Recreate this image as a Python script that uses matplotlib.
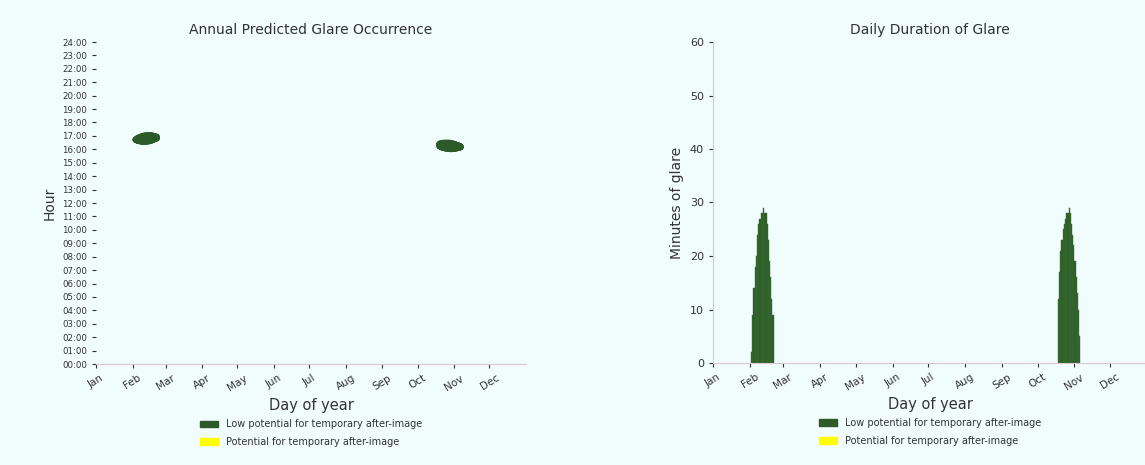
import numpy as np
import matplotlib
matplotlib.use('Agg')
import matplotlib.pyplot as plt
from matplotlib.patches import Patch

# month labels and their first day of year
months = ['Jan', 'Feb', 'Mar', 'Apr', 'May', 'Jun', 'Jul', 'Aug', 'Sep', 'Oct', 'Nov', 'Dec']
month_start = [0, 31, 59, 90, 120, 151, 181, 212, 243, 273, 304, 334]

# February glare window: day of year, minutes of glare, glare start (decimal hours)
feb_days = [32, 33, 34, 35, 36, 37, 38, 39, 40, 41, 42, 43, 44, 45, 46, 47, 48, 49, 50]
feb_minutes = [2, 9, 14, 18, 20, 24, 26, 27, 28, 28, 29, 28, 28, 26, 23, 19, 16, 12, 9]
feb_start = [16.70, 16.66, 16.62, 16.60, 16.59, 16.57, 16.56, 16.57, 16.57, 16.57,
             16.57, 16.59, 16.60, 16.62, 16.66, 16.70, 16.73, 16.77, 16.80]

# October/November glare window
nov_days = [290, 291, 292, 293, 294, 295, 296, 297, 298, 299, 300, 301, 302, 303, 304,
            305, 306, 307, 308]
nov_minutes = [12, 17, 21, 23, 25, 26, 27, 28, 28, 29, 28, 26, 24, 22, 19, 16, 13, 10, 5]
nov_start = [16.22, 16.17, 16.13, 16.11, 16.08, 16.06, 16.05, 16.03, 16.03, 16.01,
             16.01, 16.01, 16.03, 16.04, 16.05, 16.07, 16.09, 16.11, 16.14]

hour_labels = ['%02d:00' % h for h in range(25)]

green = '#2c5a28'
yellow = '#ffff00'
bg = '#f1fcfc'
spine_col = '#dcc8d2'
text_col = '#333333'


def glare_points(days, minutes, start):
    # one point per minute of glare for every day
    xs, ys = [], []
    for d, m, s in zip(days, minutes, start):
        for k in range(m + 1):
            xs.append(d + 1.5)
            ys.append(s + k / 60.0)
    return xs, ys


def style_month_axis(ax):
    ax.set_xlim(0, 365)
    ax.set_xticks(month_start)
    ax.set_xticklabels(months, rotation=32, fontsize=7.5, color=text_col)
    ax.set_xlabel('Day of year', fontsize=10.5, color=text_col)
    ax.set_facecolor(bg)
    for side in ['top', 'right']:
        ax.spines[side].set_visible(False)
    ax.spines['bottom'].set_color(spine_col)
    ax.spines['left'].set_color(spine_col)
    ax.tick_params(colors=text_col, length=3, width=0.8)


def add_legend(ax):
    handles = [Patch(facecolor=green, edgecolor=green, label='Low potential for temporary after-image'),
               Patch(facecolor=yellow, edgecolor=yellow, label='Potential for temporary after-image')]
    ax.legend(handles=handles, loc='upper center', bbox_to_anchor=(0.5, -0.145),
              frameon=False, fontsize=7, handlelength=1.9, labelspacing=0.75,
              labelcolor=text_col)


fig = plt.figure(figsize=(11.45, 4.65), dpi=100, facecolor=bg)

# left: annual occurrence
ax1 = fig.add_axes([96 / 1145, 1 - 364 / 465, 430 / 1145, 322 / 465])
for days, minutes, start in [(feb_days, feb_minutes, feb_start), (nov_days, nov_minutes, nov_start)]:
    xs, ys = glare_points(days, minutes, start)
    ax1.scatter(xs, ys, s=18, color=green, edgecolors='none')
style_month_axis(ax1)
ax1.spines['left'].set_visible(False)
ax1.set_ylim(0, 24)
ax1.set_yticks(range(25))
ax1.set_yticklabels(hour_labels, fontsize=6.2)
ax1.set_ylabel('Hour', fontsize=10, color=text_col)
ax1.set_title('Annual Predicted Glare Occurrence', fontsize=10, color=text_col)
add_legend(ax1)

# right: daily duration
ax2 = fig.add_axes([713 / 1145, 1 - 363 / 465, 434 / 1145, 321 / 465])
ax2.bar(feb_days, feb_minutes, width=1, align='edge', color=green, edgecolor='#3b6f33', linewidth=0.3)
ax2.bar(nov_days, nov_minutes, width=1, align='edge', color=green, edgecolor='#3b6f33', linewidth=0.3)
style_month_axis(ax2)
ax2.set_ylim(0, 60)
ax2.set_yticks(range(0, 61, 10))
ax2.tick_params(axis='y', labelsize=8)
ax2.set_ylabel('Minutes of glare', fontsize=10, color=text_col)
ax2.set_title('Daily Duration of Glare', fontsize=10, color=text_col)
add_legend(ax2)

fig.savefig('out.png', dpi=100, facecolor=bg)
